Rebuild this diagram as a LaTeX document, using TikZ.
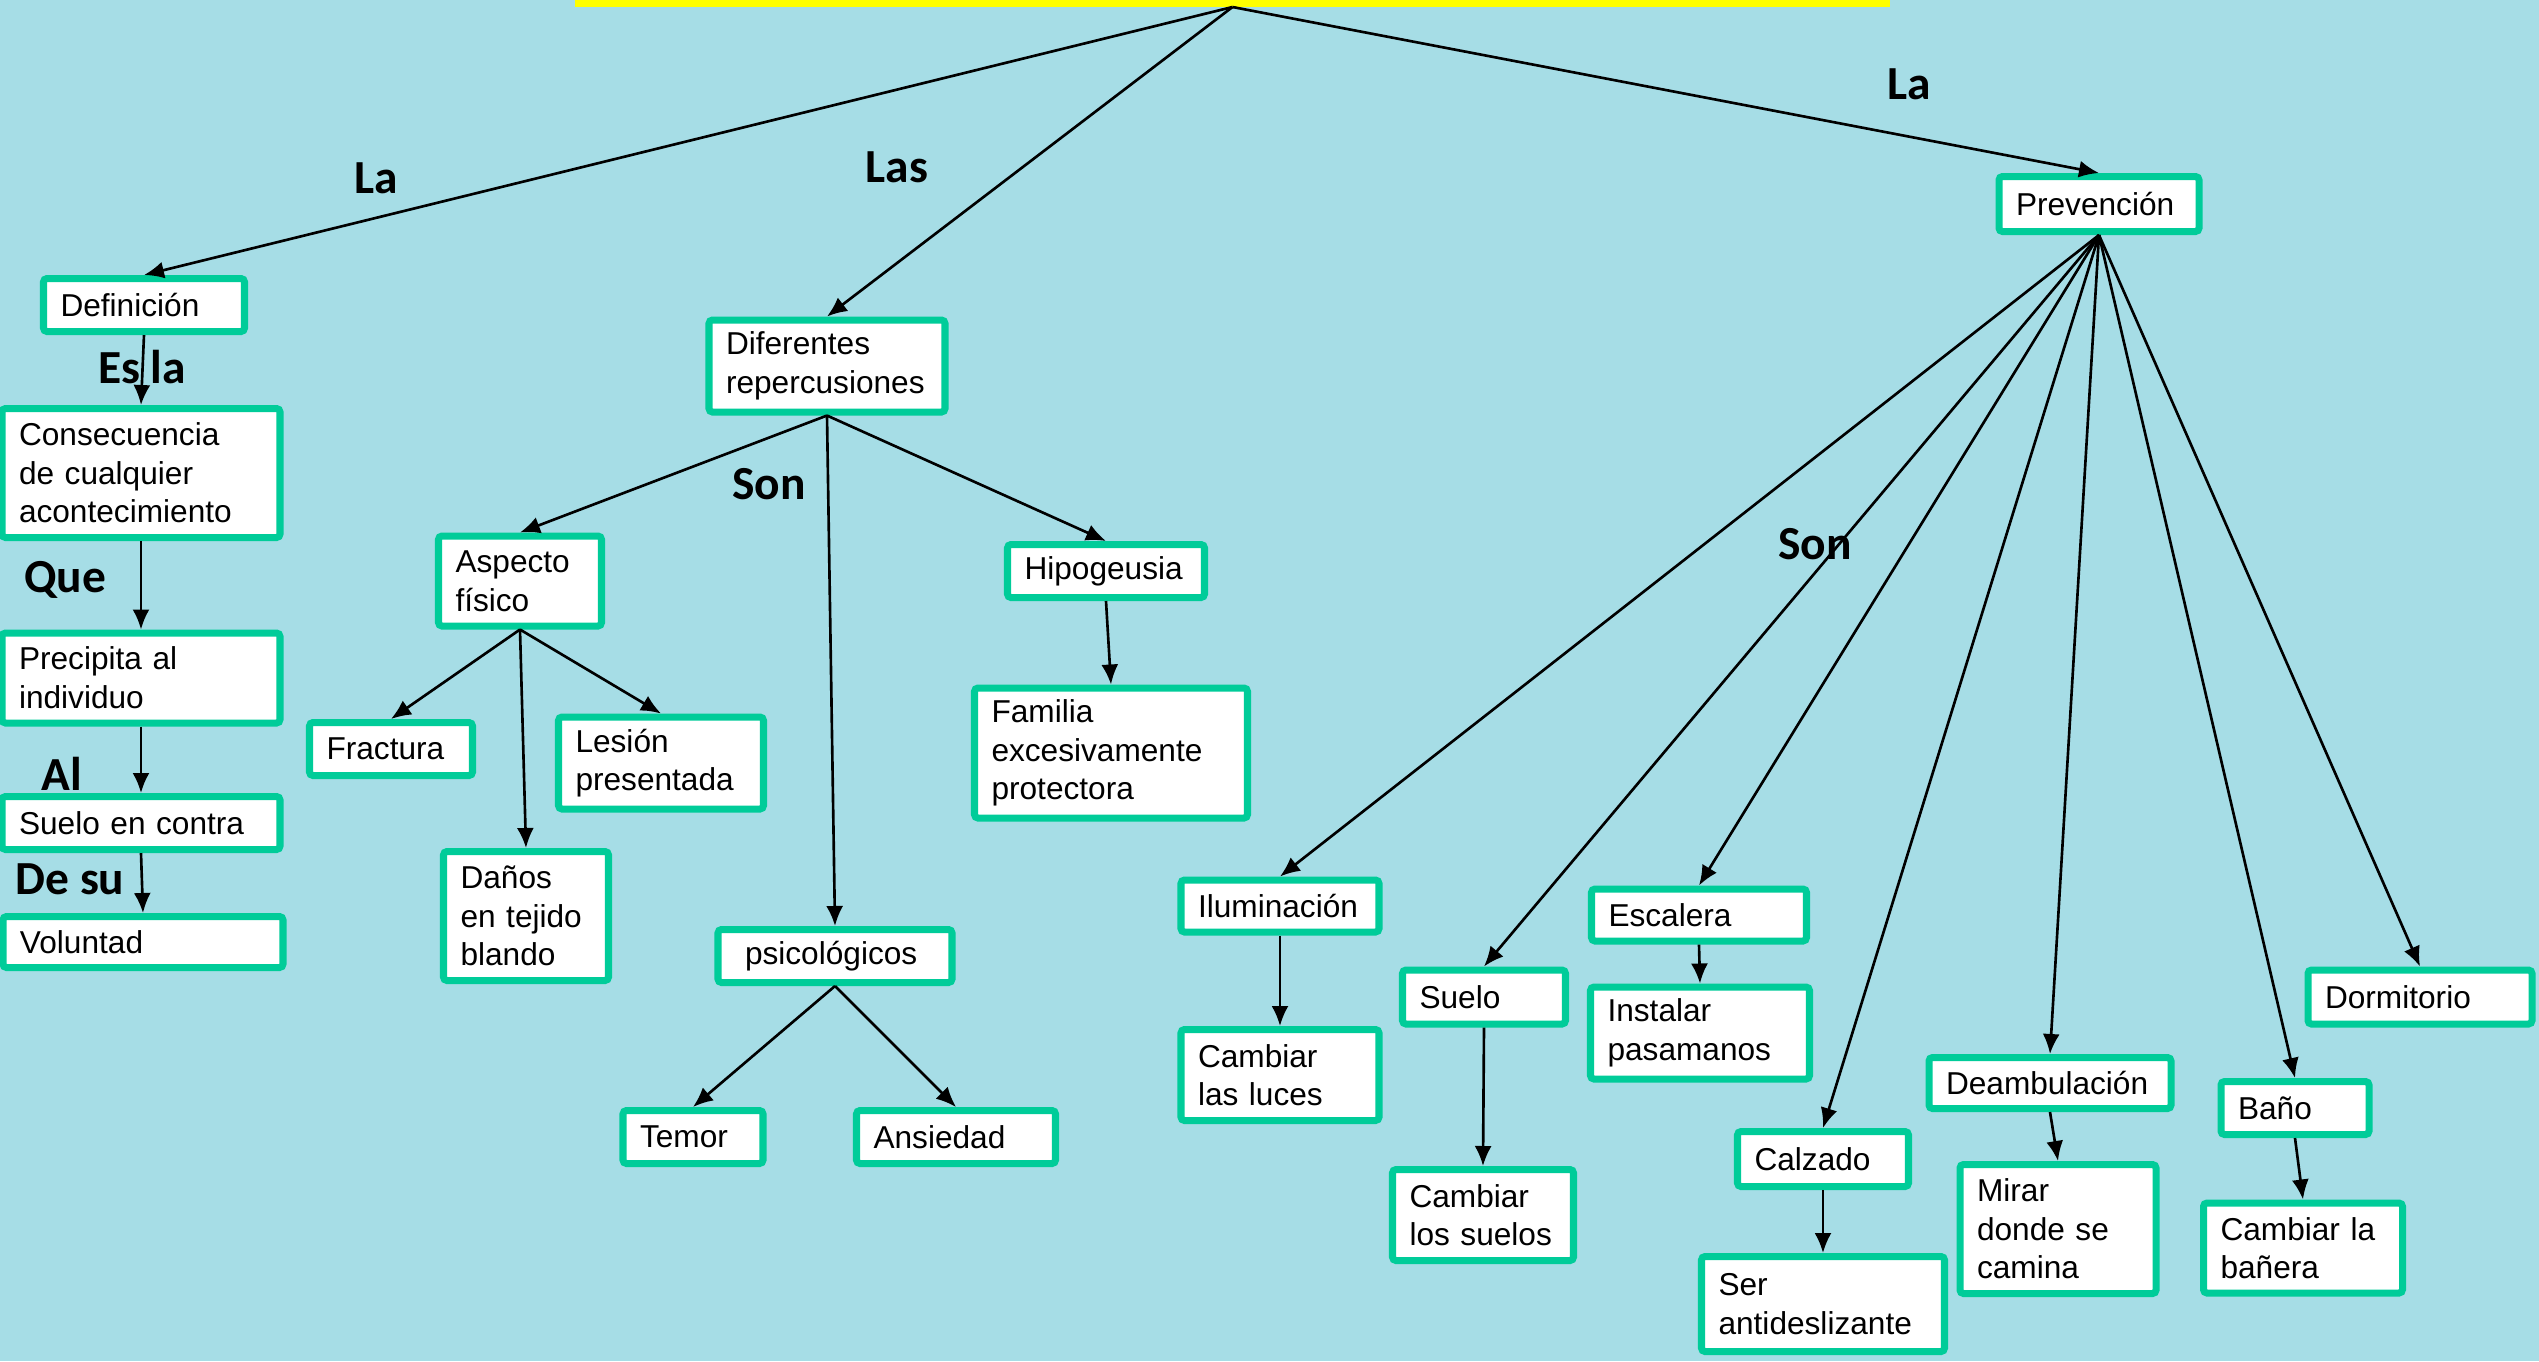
\documentclass[tikz,border=0pt]{standalone}
\usepackage{fontspec}
\setmainfont{Liberation Sans}
\newfontfamily\labelfont{Carlito}
\usetikzlibrary{arrows.meta}

\definecolor{water}{RGB}{166,221,230}
\definecolor{boxgreen}{RGB}{0,204,153}
\definecolor{titleyellow}{RGB}{255,255,0}

\tikzset{
  box/.style={draw=boxgreen, line width=2pt, fill=white, align=left, rounded corners=1pt,
    inner xsep=0.17cm, inner ysep=0pt, font=\fontsize{9}{11}\selectfont},
  boxsize/.style 2 args={/utils/exec={\pgfmathsetlengthmacro\boxtw{#1cm-0.41cm}},
    text width=\boxtw, minimum height=#2cm-0.07cm},
  link/.style={line width=0.75pt, -{Latex[length=2mm,width=1.7mm]}},
  word/.style={font=\labelfont\bfseries\fontsize{13.5}{15}\selectfont, inner sep=0pt}
}

\begin{document}
\begin{tikzpicture}

  % page and background
  \useasboundingbox (0,0) rectangle (25.39,-13.61);
  \fill[water] (0,0) rectangle (25.39,-13.61);

  % title bar (cut off at the top)
  \node[fill=titleyellow, inner sep=0pt, outer sep=0pt,
        minimum width=13.15cm, minimum height=0.07cm] (title) at (12.325,-0.035) {};

  % left branch: definition
  \node[box, boxsize={2.08}{0.60}] (def)  at (1.44,-3.05) {Definición};
  \node[box, boxsize={2.85}{1.36}] (cons) at (1.41,-4.73) {Consecuencia\\de cualquier\\acontecimiento};
  \node[box, boxsize={2.85}{0.97}] (prec) at (1.41,-6.78) {Precipita al\\individuo};
  \node[box, boxsize={2.85}{0.60}] (sc)   at (1.41,-8.23) {Suelo en contra};
  \node[box, boxsize={2.87}{0.58}] (vol)  at (1.43,-9.42) {Voluntad};

  % middle branch: repercussions
  \node[box, boxsize={2.43}{0.99}] (dif)  at (8.27,-3.66) {Diferentes\\repercusiones};
  \node[box, boxsize={1.70}{0.97}] (asp)  at (5.20,-5.81) {Aspecto\\físico};
  \node[box, boxsize={2.04}{0.60}] (hip)  at (11.06,-5.71) {Hipogeusia};
  \node[box, boxsize={2.80}{1.37}] (fam)  at (11.11,-7.53) {Familia\\excesivamente\\protectora};
  \node[box, boxsize={1.70}{0.60}] (frac) at (3.91,-7.49) {Fractura};
  \node[box, boxsize={2.12}{0.99}] (les)  at (6.61,-7.63) {Lesión\\presentada};
  \node[box, boxsize={1.72}{1.36}] (dan)  at (5.26,-9.16) {Daños\\en tejido\\blando};
  \node[box, boxsize={2.41}{0.60}] (psi)  at (8.35,-9.56) {\hspace*{0.1cm}psicológicos};
  \node[box, boxsize={1.47}{0.60}] (tem)  at (6.93,-11.37) {Temor};
  \node[box, boxsize={2.06}{0.60}] (ans)  at (9.56,-11.37) {Ansiedad};

  % right branch: prevention
  \node[box, boxsize={2.07}{0.62}] (prev)   at (20.99,-2.04) {Prevención};
  \node[box, boxsize={2.05}{0.59}] (ilu)    at (12.80,-9.06) {Iluminación};
  \node[box, boxsize={2.05}{0.98}] (luces)  at (12.80,-10.75) {Cambiar\\las luces};
  \node[box, boxsize={1.70}{0.61}] (suelo)  at (14.84,-9.97) {Suelo};
  \node[box, boxsize={1.88}{0.98}] (suelos) at (14.83,-12.15) {Cambiar\\los suelos};
  \node[box, boxsize={2.22}{0.59}] (esc)    at (16.99,-9.15) {Escalera};
  \node[box, boxsize={2.26}{0.99}] (inst)   at (17.00,-10.33) {Instalar\\pasamanos};
  \node[box, boxsize={1.78}{0.62}] (calz)   at (18.23,-11.59) {Calzado};
  \node[box, boxsize={2.50}{1.02}] (ser)    at (18.23,-13.04) {Ser\\antideslizante};
  \node[box, boxsize={2.49}{0.58}] (deam)   at (20.50,-10.83) {Deambulación};
  \node[box, boxsize={2.03}{1.36}] (mirar)  at (20.58,-12.29) {Mirar\\donde se\\camina};
  \node[box, boxsize={1.55}{0.60}] (bano)   at (22.95,-11.08) {Baño};
  \node[box, boxsize={2.06}{0.97}] (banera) at (23.03,-12.48) {Cambiar la\\bañera};
  \node[box, boxsize={2.31}{0.61}] (dorm)   at (24.20,-9.97) {Dormitorio};

  % linking words
  \node[word] (wLa)   at (3.76,-1.78) {La};
  \node[word] (wLas)  at (8.97,-1.67) {Las};
  \node[word] (wLa2)  at (19.09,-0.84) {La};
  \node[word] (wEs)   at (1.42,-3.67) {Es la};
  \node[word] (wQue)  at (0.65,-5.80) {Que};
  \node[word] (wAl)   at (0.62,-7.74) {Al};
  \node[word] (wDe)   at (0.70,-8.79) {De su};
  \node[word] (wSon)  at (7.69,-4.84) {Son};
  \node[word] (wSon2) at (18.15,-5.44) {Son};

  % connectors
  \foreach \b in {def, dif, prev}
    \draw[link] (title.south) -- (\b.north);
  \foreach \a/\b in {def/cons, cons/prec, prec/sc, sc/vol,
                     dif/asp, dif/psi, dif/hip,
                     asp/frac, asp/dan, asp/les, hip/fam,
                     psi/tem, psi/ans,
                     prev/ilu, prev/suelo, prev/esc, prev/calz,
                     prev/deam, prev/bano, prev/dorm,
                     ilu/luces, suelo/suelos, esc/inst, calz/ser,
                     deam/mirar, bano/banera}
    \draw[link] (\a.south) -- (\b.north);

\end{tikzpicture}
\end{document}
